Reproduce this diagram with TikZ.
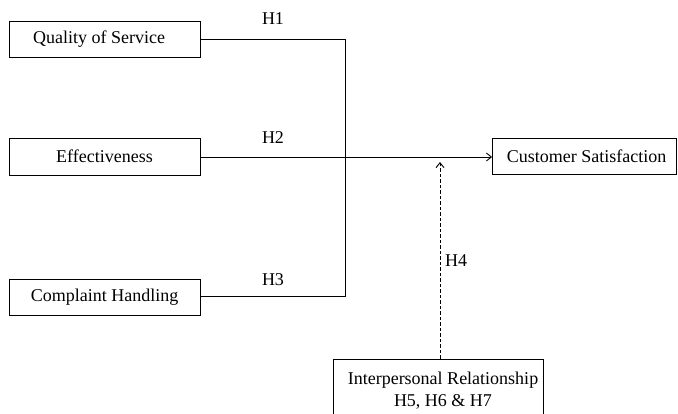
\documentclass[tikz,border=0pt]{standalone}
\usepackage{fontspec}
\setmainfont{Liberation Serif}
\usetikzlibrary{arrows.meta}
\begin{document}
\begin{tikzpicture}[x=1pt,y=-1pt,
  box/.style={draw, line width=0.8pt, inner sep=0pt, font=\fontsize{18}{22}\selectfont},
  lbl/.style={font=\fontsize{18}{22}\selectfont, inner sep=0pt},
  conn/.style={line width=0.9pt},
  tip/.style={-{Straight Barb[length=5pt,width=8pt]}}]
\useasboundingbox (0,0) rectangle (678,414);
\clip (0,0) rectangle (678,414);
\node[box, minimum width=191pt, minimum height=36pt] (qs) at (104.5,39) {\hspace*{-11pt}Quality of Service};
\node[box, minimum width=191pt, minimum height=37pt] (ef) at (104.5,156.5) {Effectiveness};
\node[box, minimum width=191pt, minimum height=36pt] (ch) at (104.5,297) {Complaint Handling};
\node[box, minimum width=184pt, minimum height=36pt] (cs) at (584.5,156) {\hspace*{4pt}Customer Satisfaction};
\node[box, minimum width=210pt, minimum height=80pt, anchor=north] (ir) at (438,359) {};
\node[lbl, align=center] (irt) at (443,391) {Interpersonal Relationship\\H5, H6 \& H7};
\coordinate (j1) at (345,39);
\coordinate (j2) at (345,157);
\coordinate (j3) at (345,296);
\coordinate (tgt) at (440,157);
\node[lbl] (h1) at (273,19) {H1};
\node[lbl] (h2) at (273,138) {H2};
\node[lbl] (h3) at (273,280) {H3};
\node[lbl] (h4) at (456,261) {H4};
\draw[conn] (qs.east |- j1) -- (j1) -- (j3) -- (ch.east |- j3);
\draw[conn] (ef.east |- j2) -- (j2);
\draw[conn, tip] (j2) -- (cs.west |- j2);
\draw[conn, tip, dash pattern=on 3.5pt off 2pt] (ir.north -| tgt) -- ([yshift=-5pt]tgt);
\end{tikzpicture}
\end{document}
